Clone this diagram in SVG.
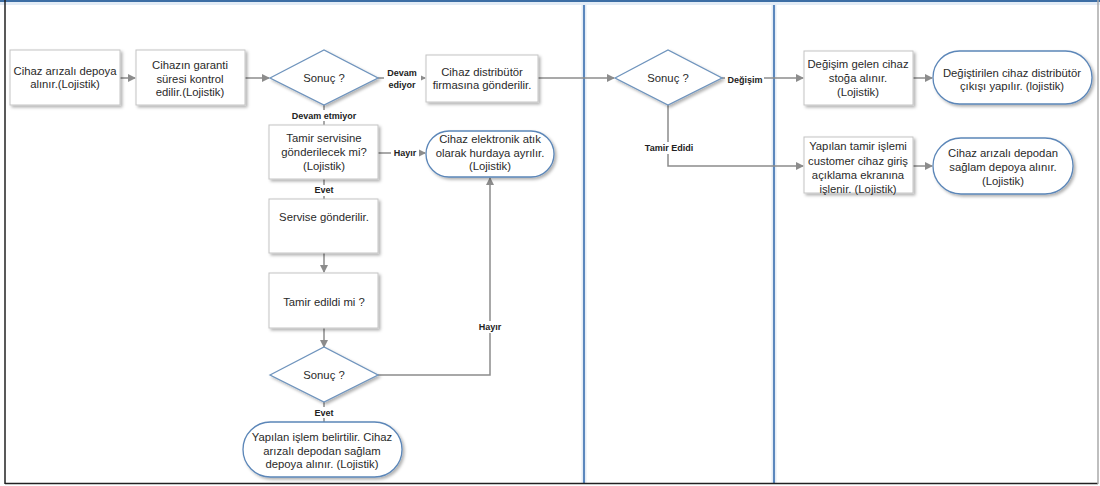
<svg xmlns="http://www.w3.org/2000/svg" width="1100" height="486" viewBox="0 0 1100 486">
<defs>
<style>
.box{fill:#fff;stroke:#c4c4c4;stroke-width:1;filter:url(#sh)}
.dia{fill:#fff;stroke:#6f94bd;stroke-width:1.3;filter:url(#sh)}
.term{fill:#fff;stroke:#5b86b8;stroke-width:1.3;filter:url(#sh)}
.t{font-family:"Liberation Sans",Arial,sans-serif;font-size:11.3px;fill:#2a2a2a;text-anchor:middle}
.lb{font-family:"Liberation Sans",Arial,sans-serif;font-size:9px;font-weight:bold;fill:#222;text-anchor:middle}
.c{fill:none;stroke:#8c8c8c;stroke-width:1.5}
.bg{fill:#fff}
.lane{stroke:#5b87bd;stroke-width:2}
.glow{stroke:#e3ecf6;stroke-width:5}
</style>
<filter id="sh" x="-10%" y="-10%" width="125%" height="130%">
<feDropShadow dx="2" dy="2" stdDeviation="1.5" flood-color="#000" flood-opacity="0.3"/>
</filter>
<marker id="ar" markerWidth="8" markerHeight="8" refX="7" refY="4" orient="auto" markerUnits="userSpaceOnUse">
<path d="M0,0 L8,4 L0,8 Z" fill="#8c8c8c"/>
</marker>
</defs>
<rect width="1100" height="486" fill="#fff"/>
<g id="frame">
<line class="glow" x1="584" y1="0" x2="584" y2="483"/>
<line class="glow" x1="774" y1="0" x2="774" y2="483"/>
<line class="lane" x1="584" y1="0" x2="584" y2="483"/>
<line class="lane" x1="774" y1="0" x2="774" y2="483"/>
<line x1="0" y1="1" x2="1100" y2="1" stroke="#3d6ea5" stroke-width="2"/>
<line x1="0" y1="3.5" x2="1100" y2="3.5" stroke="#e3ecf6" stroke-width="3"/>
<line x1="5" y1="0" x2="5" y2="484" stroke="#222" stroke-width="1.5"/>
<line x1="5" y1="483.5" x2="1098" y2="483.5" stroke="#222" stroke-width="1.5"/>
<line x1="1098" y1="0" x2="1098" y2="484" stroke="#aaa" stroke-width="1.5"/>
</g>
<g id="connectors">
<line class="c" x1="120" y1="78" x2="135" y2="78" marker-end="url(#ar)"/>
<line class="c" x1="245" y1="78" x2="269" y2="78" marker-end="url(#ar)"/>
<line class="c" x1="378" y1="78" x2="425" y2="78" marker-end="url(#ar)"/>
<line class="c" x1="538" y1="78" x2="614" y2="78" marker-end="url(#ar)"/>
<line class="c" x1="722" y1="78" x2="803" y2="78" marker-end="url(#ar)"/>
<polyline class="c" points="668,105 668,166 803,166" marker-end="url(#ar)"/>
<line class="c" x1="913" y1="78" x2="932" y2="78" marker-end="url(#ar)"/>
<line class="c" x1="913" y1="166" x2="932" y2="166" marker-end="url(#ar)"/>
<line class="c" x1="324" y1="105" x2="324" y2="125"/>
<line class="c" x1="378" y1="153" x2="425" y2="153" marker-end="url(#ar)"/>
<line class="c" x1="324" y1="179" x2="324" y2="199"/>
<line class="c" x1="324" y1="253" x2="324" y2="272" marker-end="url(#ar)"/>
<line class="c" x1="324" y1="328" x2="324" y2="347" marker-end="url(#ar)"/>
<polyline class="c" points="378,375 490,375 490,178" marker-end="url(#ar)"/>
<line class="c" x1="324" y1="402" x2="324" y2="422"/>
<rect class="bg" x="384" y="66" width="37" height="25"/>
<text class="lb" x="402" y="76">Devam</text>
<text class="lb" x="402" y="88">ediyor</text>
<rect class="bg" x="287" y="110" width="74" height="11"/>
<text class="lb" x="324" y="119">Devam etmiyor</text>
<rect class="bg" x="391" y="148" width="28" height="11"/>
<text class="lb" x="405" y="156">Hayır</text>
<rect class="bg" x="313" y="185" width="22" height="11"/>
<text class="lb" x="324" y="193">Evet</text>
<rect class="bg" x="477" y="321" width="27" height="12"/>
<text class="lb" x="490" y="330">Hayır</text>
<rect class="bg" x="313" y="407" width="22" height="11"/>
<text class="lb" x="324" y="416">Evet</text>
<rect class="bg" x="725" y="73" width="39" height="12"/>
<text class="lb" x="745" y="83">Değişim</text>
<rect class="bg" x="642" y="142" width="55" height="12"/>
<text class="lb" x="669" y="151">Tamir Edidi</text>
</g>
<g id="n1">
<rect class="box" x="10" y="50" width="110" height="55"/>
<text class="t" x="65" y="75">Cihaz arızalı depoya</text>
<text class="t" x="65" y="88">alınır.(Lojistik)</text>
</g>
<g id="n2">
<rect class="box" x="136" y="50" width="109" height="55"/>
<text class="t" x="190" y="69">Cihazın garanti</text>
<text class="t" x="190" y="83">süresi kontrol</text>
<text class="t" x="190" y="96">edilir.(Lojistik)</text>
</g>
<g id="n3">
<polygon class="dia" points="270,78 324,50 378,78 324,105"/>
<text class="t" x="324" y="82">Sonuç ?</text>
</g>
<g id="n4">
<rect class="box" x="426" y="55" width="112" height="47"/>
<text class="t" x="482" y="76">Cihaz distribütör</text>
<text class="t" x="482" y="89">firmasına gönderilir.</text>
</g>
<g id="n5">
<polygon class="dia" points="615,78 668,50 722,78 668,105"/>
<text class="t" x="668" y="82">Sonuç ?</text>
</g>
<g id="n6">
<rect class="box" x="804" y="51" width="109" height="54"/>
<text class="t" x="858" y="68">Değişim gelen cihaz</text>
<text class="t" x="858" y="82">stoğa alınır.</text>
<text class="t" x="858" y="96">(Lojistik)</text>
</g>
<g id="n7">
<rect class="term" x="933" y="51" width="159" height="53" rx="26.5" ry="26.5"/>
<text class="t" x="1012" y="77">Değiştirilen cihaz distribütör</text>
<text class="t" x="1012" y="90">çıkışı yapılır. (lojistik)</text>
</g>
<g id="n8">
<rect class="box" x="804" y="137" width="109" height="56"/>
<text class="t" x="858" y="150">Yapılan tamir işlemi</text>
<text class="t" x="858" y="164.5">customer cihaz giriş</text>
<text class="t" x="858" y="179">açıklama ekranına</text>
<text class="t" x="858" y="193">işlenir.  (Lojistik)</text>
</g>
<g id="n9">
<rect class="term" x="933" y="138" width="140" height="56" rx="28" ry="28"/>
<text class="t" x="1003" y="157">Cihaz arızalı depodan</text>
<text class="t" x="1003" y="171">sağlam depoya alınır.</text>
<text class="t" x="1003" y="185">(Lojistik)</text>
</g>
<g id="n10">
<rect class="box" x="269" y="125" width="109" height="54"/>
<text class="t" x="324" y="142">Tamir servisine</text>
<text class="t" x="324" y="156">gönderilecek mi?</text>
<text class="t" x="324" y="170">(Lojistik)</text>
</g>
<g id="n11">
<rect class="term" x="426" y="131" width="128" height="46" rx="23" ry="23"/>
<text class="t" x="490" y="143">Cihaz elektronik atık</text>
<text class="t" x="490" y="157">olarak hurdaya ayrılır.</text>
<text class="t" x="490" y="170">(Lojistik)</text>
</g>
<g id="n12">
<rect class="box" x="269" y="199" width="109" height="54"/>
<text class="t" x="324" y="221">Servise gönderilir.</text>
</g>
<g id="n13">
<rect class="box" x="269" y="273" width="109" height="55"/>
<text class="t" x="324" y="306">Tamir edildi mi ?</text>
</g>
<g id="n14">
<polygon class="dia" points="270,375 324,347 378,375 324,402"/>
<text class="t" x="324" y="379">Sonuç ?</text>
</g>
<g id="n15">
<rect class="term" x="243" y="422" width="159" height="55" rx="27.5" ry="27.5"/>
<text class="t" x="322" y="441">Yapılan işlem belirtilir. Cihaz</text>
<text class="t" x="322" y="455">arızalı depodan sağlam</text>
<text class="t" x="322" y="468">depoya alınır. (Lojistik)</text>
</g>
</svg>
